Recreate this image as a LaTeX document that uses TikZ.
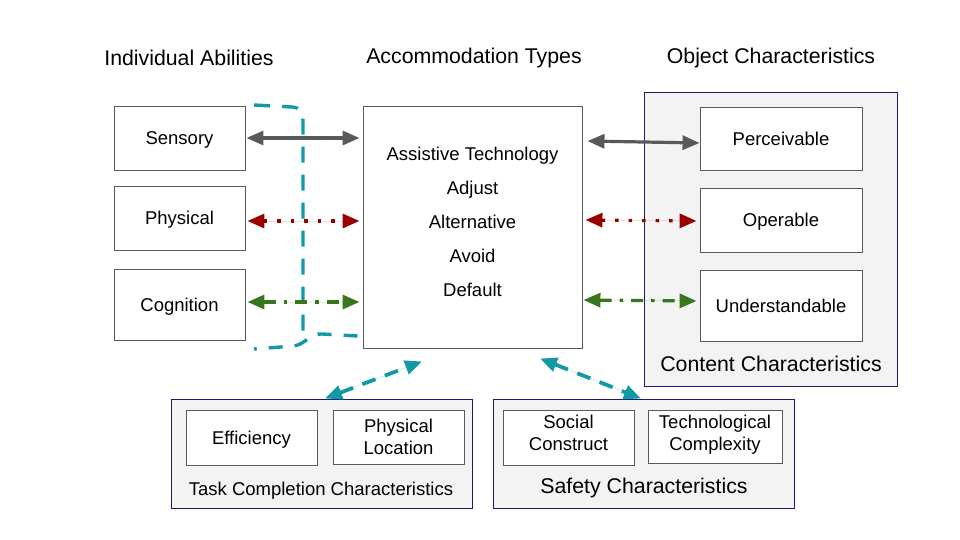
\documentclass[tikz,border=0pt]{standalone}
\usepackage{fontspec}
\setmainfont{Liberation Sans}
\usetikzlibrary{arrows.meta,positioning,calc}
\definecolor{boxline}{HTML}{595959}
\definecolor{grpline}{HTML}{1C1C6E}
\definecolor{grpfill}{HTML}{F3F3F3}
\definecolor{darkred}{HTML}{990000}
\definecolor{darkgreen}{HTML}{38761D}
\definecolor{teal2}{HTML}{1399A6}
\definecolor{arrgray}{HTML}{595959}
\tikzset{
  itembox/.style={draw=boxline, line width=0.9pt, fill=white, align=center,
    font=\fontsize{18.5}{22}\selectfont, inner sep=0pt},
  grpbox/.style={draw=grpline, line width=1pt, fill=grpfill},
  title/.style={font=\fontsize{21.3}{24}\selectfont},
  grplabel/.style={font=\fontsize{21.3}{24}\selectfont},
  biarrow/.style={{Triangle[length=17pt,width=14pt]}-{Triangle[length=17pt,width=14pt]}, line width=3.2pt},
  solidgray/.style={biarrow, draw=arrgray, fill=arrgray},
  dotred/.style={biarrow, draw=darkred, fill=darkred, dash pattern=on 3.5pt off 10pt},
  dashdotgreen/.style={biarrow, draw=darkgreen, fill=darkgreen, dash pattern=on 12pt off 8pt on 3.5pt off 8pt},
  tealdash/.style={biarrow, line width=3.8pt, draw=teal2, fill=teal2, dash pattern=on 14pt off 10pt},
  tealcurve/.style={draw=teal2, line width=3.4pt, dash pattern=on 16pt off 12pt}
}
\begin{document}
\begin{tikzpicture}[x=1pt,y=-1pt]
\useasboundingbox (0,0) rectangle (960,540);
% titles
\node[title] (t1) at (189,58) {Individual Abilities};
\node[title] (t2) at (474,58) {Accommodation Types};
\node[title] (t3) at (771,58) {Object Characteristics};
% groups
\node[grpbox, minimum width=253pt, minimum height=293pt, inner sep=0pt] (content) at (770.5,239.5) {};
\node[grpbox, minimum width=301pt, minimum height=109pt, inner sep=0pt] (task) at (321.5,453.5) {};
\node[grpbox, minimum width=301pt, minimum height=109pt, inner sep=0pt] (safety) at (643.5,453.5) {};
\node[grplabel] (contentlab) at (771,364) {Content Characteristics};
\node[font=\fontsize{18.5}{22}\selectfont] (tasklab) at (321,491) {Task Completion Characteristics};
\node[grplabel] (safetylab) at (644,487.5) {Safety Characteristics};
% left boxes
\node[itembox, text depth=0pt, minimum width=131pt, minimum height=64pt] (sens) at (179.5,138) {Sensory};
\node[itembox, text depth=0pt, minimum width=131pt, minimum height=64pt] (phys) at (179.5,218) {Physical};
\node[itembox, text depth=0pt, minimum width=131pt, minimum height=71pt] (cogn) at (179.5,304.5) {Cognition};
% middle
\node[itembox, minimum width=219pt, minimum height=242pt] (mid) at (472.5,227) {};
\node[align=center, font=\fontsize{18.5}{34}\selectfont] (midtext) at (472.5,222)
  {Assistive Technology\\Adjust\\Alternative\\Avoid\\Default};
% right boxes
\node[itembox, text depth=0pt, minimum width=162pt, minimum height=63pt] (perc) at (781,138.5) {Perceivable};
\node[itembox, text depth=0pt, minimum width=162pt, minimum height=64pt] (oper) at (781,220) {Operable};
\node[itembox, text depth=0pt, minimum width=162pt, minimum height=71pt] (unde) at (781,305.5) {Understandable};
% bottom boxes
\node[itembox, text depth=0pt, minimum width=131pt, minimum height=55pt] (effi) at (251.5,437.5) {Efficiency};
\node[itembox, minimum width=131pt, minimum height=54pt] (ploc) at (398.5,437) {Physical\\Location};
\node[itembox, text depth=10pt, minimum width=131pt, minimum height=55pt] (soci) at (568.5,437.5) {Social\\Construct};
\node[itembox, text depth=8pt, minimum width=134pt, minimum height=53pt] (tech) at (715,436.5) {Technological\\Complexity};
% curve
\draw[tealcurve] (254,105) -- (292,107) .. controls (301,108) and (303,112) .. (303,122) -- (303,334);
\draw[tealcurve, dash pattern=on 14pt off 12pt] ($(mid.west)+(-5,109)$) -- (322,334) .. controls (310,333) and (306,344) .. (294,346) -- (254,349);
% arrows
\draw[solidgray] ($(sens.east)+(1,0)$) -- ($(mid.west |- sens.east)+(-3,0)$);
\draw[dotred] ($(phys.east)+(2,3)$) -- ($(mid.west |- phys.east)+(-3,3)$);
\draw[dashdotgreen] ($(cogn.east)+(2,-2.5)$) -- ($(mid.west |- cogn.east)+(-3,-2.5)$);
\draw[solidgray] ($(mid.east |- perc.west)+(5,2.5)$) -- ($(perc.west)+(0,4.5)$);
\draw[dotred] ($(mid.east |- oper.west)+(3,0)$) -- ($(oper.west)+(-3,1)$);
\draw[dashdotgreen] ($(mid.east |- unde.west)+(1,-5.5)$) -- ($(unde.west)+(-3,-4.5)$);
\draw[tealdash] ($(task.north)+(3.5,0)$) -- ($(mid.south)+(-50.5,13)$);
\draw[tealdash] ($(mid.south)+(67.5,10)$) -- ($(safety.north)+(-2.5,0)$);
\end{tikzpicture}
\end{document}
